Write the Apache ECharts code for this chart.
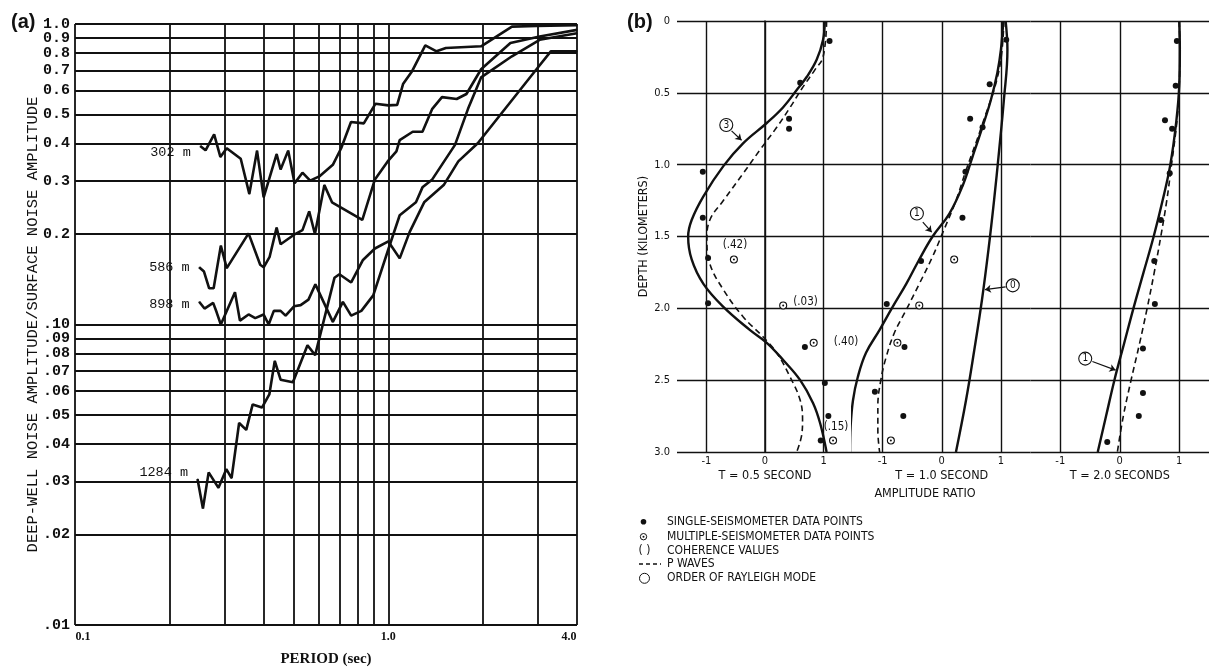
<!DOCTYPE html>
<html><head><meta charset="utf-8">
<script src="https://cdn.jsdelivr.net/npm/echarts@6/dist/echarts.min.js"></script>
<style>html,body{margin:0;padding:0;background:#fff}#c{width:1209px;height:672px}</style>
</head><body><div id="c"></div>
<script>
// ---------- Panel (a): deep-well / surface noise amplitude vs period ----------
const curveNames = ['302 m', '586 m', '898 m', '1284 m'];
const curve302 = [[0.251,0.393],[0.261,0.380],[0.278,0.429],[0.291,0.361],[0.305,0.386],[0.338,0.356],[0.360,0.272],[0.381,0.379],[0.400,0.265],[0.440,0.369],[0.453,0.328],[0.479,0.379],[0.502,0.295],[0.532,0.320],[0.563,0.301],[0.602,0.311],[0.665,0.340],[0.707,0.386],[0.760,0.472],[0.835,0.467],[0.910,0.543],[1.0,0.536],[1.067,0.538],[1.114,0.631],[1.192,0.698],[1.312,0.849],[1.425,0.811],[1.526,0.832],[1.977,0.843],[2.48,0.980],[2.97,0.985],[4.0,0.99]];
const curve586 = [[0.249,0.155],[0.258,0.150],[0.268,0.132],[0.277,0.132],[0.292,0.183],[0.305,0.154],[0.358,0.201],[0.390,0.158],[0.400,0.155],[0.418,0.168],[0.440,0.210],[0.453,0.185],[0.504,0.200],[0.532,0.206],[0.559,0.238],[0.583,0.200],[0.625,0.291],[0.661,0.255],[0.826,0.223],[0.906,0.304],[0.995,0.349],[1.061,0.377],[1.087,0.411],[1.196,0.438],[1.285,0.438],[1.381,0.522],[1.483,0.571],[1.652,0.563],[1.775,0.585],[1.977,0.707],[2.452,0.864],[3.04,0.909],[4.0,0.956]];
const curve898 = [[0.249,0.119],[0.259,0.113],[0.276,0.118],[0.283,0.110],[0.292,0.100],[0.324,0.128],[0.336,0.103],[0.358,0.108],[0.376,0.105],[0.400,0.108],[0.415,0.100],[0.431,0.111],[0.453,0.111],[0.470,0.107],[0.500,0.115],[0.525,0.116],[0.556,0.121],[0.585,0.136],[0.665,0.102],[0.716,0.119],[0.761,0.107],[0.820,0.111],[0.895,0.125],[1.0,0.178],[1.087,0.231],[1.225,0.255],[1.285,0.286],[1.381,0.304],[1.632,0.396],[1.796,0.522],[1.977,0.664],[2.48,0.781],[3.04,0.886],[4.0,0.932]];
const curve1284 = [[0.246,0.0306],[0.256,0.0244],[0.267,0.0322],[0.287,0.0286],[0.304,0.033],[0.316,0.0308],[0.334,0.047],[0.352,0.0446],[0.369,0.0542],[0.395,0.0529],[0.417,0.0585],[0.434,0.0756],[0.453,0.0655],[0.496,0.0642],[0.552,0.0853],[0.584,0.0791],[0.673,0.143],[0.698,0.147],[0.761,0.138],[0.830,0.164],[0.906,0.179],[1.0,0.189],[1.087,0.166],[1.169,0.203],[1.301,0.255],[1.502,0.291],[1.672,0.349],[1.929,0.401],[2.97,0.707],[3.30,0.811],[4.0,0.811]];
const periodGrid = [0.1,0.2,0.3,0.4,0.5,0.6,0.7,0.8,0.9,1,2,3,4];
const periodTickValues = [0.1, 1, 4];
const periodTickLabels = ['0.1', '1.0', '4.0'];
const ampGrid = [1,0.9,0.8,0.7,0.6,0.5,0.4,0.3,0.2,0.1,0.09,0.08,0.07,0.06,0.05,0.04,0.03,0.02,0.01];
const ampTickLabels = ['1.0','0.9','0.8','0.7','0.6','0.5','0.4','0.3','0.2','.10','.09','.08','.07','.06','.05','.04','.03','.02','.01'];

// ---------- Panel (b): amplitude ratio vs depth ----------
const t05Mode3 = [[1.02,0],[0.99,0.13],[0.88,0.27],[0.71,0.39],[0.56,0.47],[0.31,0.60],[0.03,0.71],[-0.37,0.85],[-0.71,1.01],[-1.05,1.22],[-1.25,1.385],[-1.31,1.50],[-1.25,1.66],[-1.05,1.83],[-0.71,1.99],[-0.26,2.15],[0.03,2.24],[0.31,2.36],[0.60,2.50],[0.82,2.66],[0.94,2.80],[1.05,3.0]];
const t05PWave = [[1.05,0],[0.99,0.25],[0.85,0.34],[0.63,0.47],[0.43,0.60],[0.20,0.74],[-0.09,0.90],[-0.37,1.06],[-0.71,1.25],[-0.94,1.385],[-0.99,1.52],[-0.94,1.69],[-0.71,1.87],[-0.37,2.06],[-0.03,2.20],[0.20,2.31],[0.43,2.48],[0.60,2.64],[0.64,2.78],[0.63,2.87],[0.54,3.0]];
const t05Single = [[1.10,0.14],[0.60,0.43],[0.41,0.68],[0.41,0.75],[-1.06,1.05],[-1.06,1.37],[-0.97,1.65],[-0.97,1.965],[0.68,2.27],[1.02,2.52],[1.08,2.75],[0.95,2.92]];
const t05Multiple = [[-0.53,1.66],[0.31,1.98],[0.83,2.24],[1.16,2.92]];
const t05Coherence = ['(.42)', '(.03)', '(.40)', '(.15)'];
const t10Mode1 = [[1.04,0],[1.0,0.20],[0.94,0.36],[0.83,0.55],[0.69,0.735],[0.52,0.945],[0.35,1.15],[0.13,1.34],[-0.155,1.50],[-0.38,1.66],[-0.60,1.83],[-0.83,1.99],[-1.05,2.15],[-1.28,2.31],[-1.42,2.48],[-1.50,2.64],[-1.54,2.82],[-1.55,3.0]];
const t10Mode0 = [[1.08,0],[1.11,0.20],[1.05,0.55],[0.97,0.90],[0.885,1.245],[0.79,1.59],[0.68,1.94],[0.55,2.29],[0.41,2.64],[0.24,3.0]];
const t10PWave = [[1.05,0],[0.97,0.34],[0.66,0.75],[0.41,1.04],[0.24,1.25],[0.01,1.48],[-0.155,1.64],[-0.38,1.83],[-0.60,2.01],[-0.80,2.17],[-0.94,2.34],[-1.03,2.50],[-1.08,2.68],[-1.08,2.85],[-1.05,3.0]];
const t10Single = [[1.09,0.13],[0.81,0.44],[0.48,0.68],[0.69,0.74],[0.40,1.05],[0.35,1.37],[-0.35,1.67],[-0.93,1.97],[-0.63,2.27],[-1.13,2.58],[-0.65,2.75]];
const t10Multiple = [[0.21,1.66],[-0.38,1.98],[-0.75,2.24],[-0.86,2.92]];
const t20Mode1 = [[1.0,0],[1.01,0.2],[1.0,0.45],[0.95,0.7],[0.85,1.0],[0.72,1.25],[0.57,1.5],[0.40,1.75],[0.23,2.0],[0.07,2.25],[-0.09,2.5],[-0.23,2.75],[-0.37,3.0]];
const t20PWave = [[1.0,0],[1.01,0.2],[1.0,0.45],[0.96,0.7],[0.87,1.0],[0.79,1.25],[0.69,1.5],[0.58,1.75],[0.46,2.0],[0.33,2.25],[0.19,2.5],[0.06,2.75],[-0.04,3.0]];
const t20Single = [[0.96,0.14],[0.94,0.45],[0.76,0.69],[0.88,0.75],[0.84,1.06],[0.69,1.385],[0.58,1.67],[0.59,1.97],[0.39,2.28],[0.39,2.59],[0.32,2.75],[-0.21,2.93]];
const ampRatioTicks = [-1, 0, 1];
const ampRatioTickLabels = ['-1', '0', '1'];
const periodNames = ['T = 0.5 SECOND', 'T = 1.0 SECOND', 'T = 2.0 SECONDS'];
// Rayleigh-mode annotations (circle position and arrow in data units)
const noteT05Mode3 = { text: '3', at: [-0.66, 0.724], from: [-0.57, 0.765], to: [-0.40, 0.83] };
const noteT10Mode1 = { text: '1', at: [-0.42, 1.34], from: [-0.32, 1.40], to: [-0.17, 1.47] };
const noteT10Mode0 = { text: '0', at: [1.20, 1.84], from: [1.08, 1.85], to: [0.73, 1.87] };
const noteT20Mode1 = { text: '1', at: [-0.58, 2.35], from: [-0.46, 2.37], to: [-0.07, 2.43] };
const legendTexts = ['SINGLE-SEISMOMETER DATA POINTS', 'MULTIPLE-SEISMOMETER DATA POINTS', 'COHERENCE VALUES', 'P WAVES', 'ORDER OF RAYLEIGH MODE'];

// ---------- styles ----------
const INK = '#111';
const MONO = "'Liberation Mono', 'DejaVu Sans Mono', monospace";
const SERIF = "'Liberation Serif', 'DejaVu Serif', serif";
const NARROW = "'Liberation Sans Narrow', 'DejaVu Sans Condensed', 'Liberation Sans', sans-serif";

const chart = echarts.init(document.getElementById('c'), null, { renderer: 'canvas' });

// Panel (a) grid lines & tick labels as markLines through the log axes
const gridLinesA = [];
periodGrid.forEach(v => {
  const k = periodTickValues.indexOf(v);
  const item = { xAxis: v };
  if (k >= 0) {
    item.label = { show: true, position: 'start', distance: 6, formatter: periodTickLabels[k],
      fontFamily: SERIF, fontWeight: 'bold', fontSize: 12, color: INK,
      offset: [k === 0 ? 8 : (k === periodTickValues.length - 1 ? -8 : 0), 0] };
  }
  gridLinesA.push(item);
});
ampGrid.forEach((v, i) => {
  gridLinesA.push({ yAxis: v, label: { show: true, position: 'start', distance: 5, formatter: ampTickLabels[i],
    fontFamily: MONO, fontWeight: 'bold', fontSize: 15, color: INK } });
});

const labelOffsetsA = [[0, 7], [0, 0], [0, 3], [0, -7]];
const curvesA = [curve302, curve586, curve898, curve1284];
const seriesA = curvesA.map((c, i) => ({
  type: 'line', name: curveNames[i], xAxisIndex: 0, yAxisIndex: 0,
  data: c.map((p, j) => j === 0 ? { value: p, label: { show: true, position: 'left', distance: 9, offset: labelOffsetsA[i],
    formatter: curveNames[i], fontFamily: MONO, fontSize: 13.5, color: INK } } : p),
  symbol: 'circle', symbolSize: 1, showSymbol: true, showAllSymbol: true,
  itemStyle: { color: INK, opacity: 1 }, lineStyle: { color: INK, width: 2.6 },
  label: { show: false }, z: 3, silent: true,
  markLine: i === 0 ? { silent: true, symbol: ['none', 'none'], animation: false, z: 1,
    lineStyle: { color: INK, width: 1.8, type: 'solid' }, label: { show: false }, data: gridLinesA } : undefined
}));

// Panel (b)
function xGridLinesB() {
  return ampRatioTicks.map((v, k) => ({ xAxis: v, label: { show: true, position: 'end', distance: 4,
    formatter: ampRatioTickLabels[k], fontFamily: NARROW, fontSize: 11, color: INK } }));
}
function modeNote(note) {
  return {
    markPoint: { silent: true, animation: false, data: [{ coord: note.at, symbol: 'circle', symbolSize: 13,
      itemStyle: { color: '#fff', borderColor: INK, borderWidth: 1.1, opacity: 1 },
      label: { show: true, position: 'inside', formatter: note.text, color: INK, fontSize: 10, fontFamily: NARROW } }] },
    markLine: { silent: true, animation: false, symbol: ['none', 'arrow'], symbolSize: 6,
      lineStyle: { color: INK, width: 1.2, type: 'solid', opacity: 1 }, label: { show: false },
      data: [[{ coord: note.from }, { coord: note.to }]] }
  };
}
function modeSeries(gi, data, note) {
  return Object.assign({ type: 'line', xAxisIndex: gi, yAxisIndex: gi, data: data, smooth: 0.4, symbol: 'none',
    lineStyle: { color: INK, width: 2.4 }, clip: false, z: 3, silent: true }, note ? modeNote(note) : {});
}
function pSeries(gi, data) {
  return { type: 'line', xAxisIndex: gi, yAxisIndex: gi, data: data, smooth: 0.4, symbol: 'none',
    lineStyle: { color: INK, width: 1.6, type: [6, 4] }, clip: false, z: 3, silent: true,
    markLine: { silent: true, symbol: ['none', 'none'], animation: false, z: 1,
      lineStyle: { color: INK, width: 1.4, type: 'solid', opacity: 1 }, label: { show: false }, data: xGridLinesB() } };
}
function singleSeries(gi, data) {
  return { type: 'scatter', xAxisIndex: gi, yAxisIndex: gi, data: data, symbol: 'circle', symbolSize: 6,
    itemStyle: { color: INK, opacity: 1 }, clip: false, z: 4, silent: true };
}
function multipleSeries(gi, data, coh, cohPos) {
  return [{ type: 'scatter', xAxisIndex: gi, yAxisIndex: gi, symbol: 'circle', symbolSize: 7,
    itemStyle: { color: '#fff', borderColor: INK, borderWidth: 1.1, opacity: 1 }, clip: false, z: 4, silent: true,
    data: data.map((p, k) => coh ? { value: p, label: { show: true, formatter: coh[k], position: cohPos[k].pos,
      distance: cohPos[k].d, offset: cohPos[k].off, fontFamily: NARROW, fontSize: 11.5, color: INK, opacity: 1 } } : p) },
    { type: 'scatter', xAxisIndex: gi, yAxisIndex: gi, symbol: 'circle', symbolSize: 2, data: data,
      itemStyle: { color: INK, opacity: 1 }, clip: false, z: 5, silent: true }];
}
const cohPosT05 = [{ pos: 'top', d: 4, off: [1, 0] }, { pos: 'right', d: 6, off: [0, -3] },
  { pos: 'right', d: 16, off: [0, -1] }, { pos: 'top', d: 3, off: [3, 0] }];

const seriesB = [].concat(
  [pSeries(1, t05PWave), modeSeries(1, t05Mode3, noteT05Mode3), singleSeries(1, t05Single)],
  multipleSeries(1, t05Multiple, t05Coherence, cohPosT05),
  [pSeries(2, t10PWave), modeSeries(2, t10Mode1, noteT10Mode1), modeSeries(2, t10Mode0, noteT10Mode0), singleSeries(2, t10Single)],
  multipleSeries(2, t10Multiple, null, null),
  [pSeries(3, t20PWave), modeSeries(3, t20Mode1, noteT20Mode1), singleSeries(3, t20Single)]
);

const gridsB = [{ left: 677, width: 176 }, { left: 853, width: 177.5 }, { left: 1030.5, width: 184 }];

const option = {
  animation: false,
  backgroundColor: '#fff',
  textStyle: { color: INK },
  grid: [{ left: 75, top: 24, width: 502, height: 608 }].concat(gridsB.map(g => ({ left: g.left, width: g.width, top: 21, height: 431 }))),
  xAxis: [{
    type: 'log', logBase: 10, min: 0.1, max: 4, gridIndex: 0,
    axisLine: { show: false }, axisTick: { show: false }, axisLabel: { show: false }, splitLine: { show: false },
    name: 'PERIOD (sec)', nameLocation: 'middle', nameGap: 27,
    nameTextStyle: { fontFamily: SERIF, fontWeight: 'bold', fontSize: 15, color: INK }
  }].concat([1, 2, 3].map(i => ({
    type: 'value', gridIndex: i, min: -1.5, max: 1.5,
    axisLine: { show: false }, axisTick: { show: false }, axisLabel: { show: false }, splitLine: { show: false },
    name: periodNames[i - 1], nameLocation: 'middle', nameGap: 17,
    nameTextStyle: { fontFamily: NARROW, fontSize: 12.5, color: INK }
  }))),
  yAxis: [{
    type: 'log', logBase: 10, min: 0.01, max: 1, gridIndex: 0,
    axisLine: { show: false }, axisTick: { show: false }, axisLabel: { show: false }, splitLine: { show: false },
    name: 'DEEP-WELL NOISE AMPLITUDE/SURFACE NOISE AMPLITUDE', nameLocation: 'middle', nameGap: 34,
    nameTextStyle: { fontFamily: MONO, fontSize: 15.5, color: INK }
  }].concat([1, 2, 3].map(i => ({
    type: 'value', gridIndex: i, inverse: true, min: 0, max: 3, interval: 0.5,
    axisLine: { show: i === 1, lineStyle: { color: INK, width: 1.5 } }, axisTick: { show: false },
    axisLabel: { show: i === 1, margin: 7, fontFamily: NARROW, fontSize: 11, color: INK,
      formatter: v => v === 0 ? '0' : v.toFixed(1) },
    splitLine: { show: true, lineStyle: { color: INK, width: 1.4 } },
    name: i === 1 ? 'DEPTH (KILOMETERS)' : '', nameLocation: 'middle', nameGap: 23,
    nameTextStyle: { fontFamily: NARROW, fontSize: 12.5, color: INK }
  }))),
  series: seriesA.concat(seriesB),
  graphic: [
    { type: 'text', x: 11, y: 22, style: { text: '(a)', font: "bold 20px 'Liberation Sans', Arial, sans-serif", fill: INK, verticalAlign: 'middle' } },
    { type: 'text', x: 627, y: 22, style: { text: '(b)', font: "bold 20px 'Liberation Sans', Arial, sans-serif", fill: INK, verticalAlign: 'middle' } },
    { type: 'text', x: 925, y: 494, style: { text: 'AMPLITUDE RATIO', font: "12.5px " + NARROW, fill: INK, align: 'center', verticalAlign: 'middle' } },
    // legend
    { type: 'circle', shape: { cx: 643.5, cy: 521.7, r: 2.8 }, style: { fill: INK } },
    { type: 'circle', shape: { cx: 643.5, cy: 536.7, r: 3.2 }, style: { fill: '#fff', stroke: INK, lineWidth: 1 } },
    { type: 'circle', shape: { cx: 643.5, cy: 536.7, r: 1 }, style: { fill: INK } },
    { type: 'text', x: 644.5, y: 550.7, style: { text: '( )', font: "12px " + NARROW, fill: INK, align: 'center', verticalAlign: 'middle' } },
    { type: 'line', shape: { x1: 639, y1: 564, x2: 661, y2: 564 }, style: { stroke: INK, lineWidth: 1.4, lineDash: [4, 3] } },
    { type: 'circle', shape: { cx: 644.5, cy: 578.3, r: 5 }, style: { fill: '#fff', stroke: INK, lineWidth: 1 } }
  ].concat(legendTexts.map((t, k) => ({ type: 'text', x: 667, y: [521.7, 536.7, 550.7, 564, 578.3][k],
    style: { text: t, font: "12px " + NARROW, fill: INK, verticalAlign: 'middle' } })))
};
chart.setOption(option);
</script>
</body></html>
